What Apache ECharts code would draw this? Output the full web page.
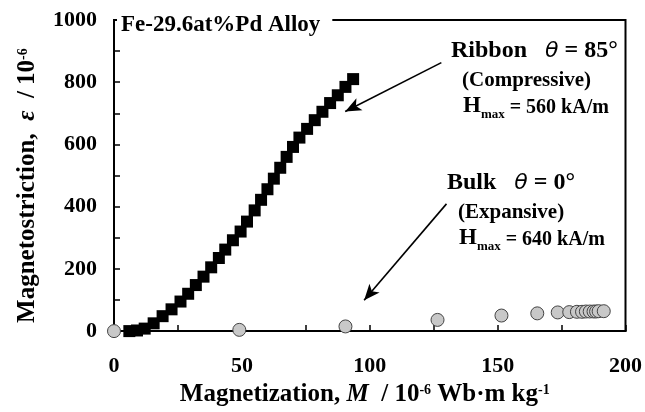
<!DOCTYPE html>
<html>
<head>
<meta charset="utf-8">
<script src="https://cdn.jsdelivr.net/npm/echarts@6/dist/echarts.min.js"></script>
<style>html,body{margin:0;padding:0;background:#fff}#c{width:645px;height:412px}</style>
</head>
<body>
<div id="c"></div>
<script>
// Ribbon (theta = 85 deg), magnetization M (10^-6 Wb m/kg)
var ribbonM = [6, 9, 12, 15.5, 19, 22.5, 26, 29, 32, 35, 38, 41, 43.5, 46.5, 49.5, 52, 55, 57.5, 60, 62.5, 65, 67.5, 70, 72.5, 75.5, 78.5, 81.5, 84.5, 87.5, 90.5, 93.5];
// Ribbon magnetostriction (10^-6)
var ribbonE = [0, 2, 8, 25, 48, 70, 95, 120, 148, 175, 205, 235, 262, 292, 320, 352, 388, 422, 456, 490, 525, 560, 592, 622, 650, 678, 705, 733, 758, 785, 810];
// Bulk (theta = 0 deg)
var bulkM = [0, 49, 90.5, 126.5, 151.5, 165.5, 173.5, 178, 181, 183, 184.5, 186, 187.5, 188.5, 189.5, 191.5];
var bulkE = [0, 4, 15, 36, 50, 57, 60, 61, 62, 62, 63, 63, 63, 63, 64, 64];
// Axis ticks
var xTicks = {min: 0, max: 200, interval: 50};
var yTicks = {min: 0, max: 1000, interval: 200};
// Arrow annotations (data coordinates: start -> tip)
var ribbonArrow = [[128, 863], [90.4, 706]];
var bulkArrow = [[130, 409], [97.8, 99]];

var FONT = 'Liberation Serif';
var chart = echarts.init(document.getElementById('c'));
function st(size, lh, extra) {
  var o = {fontFamily: FONT, fontWeight: 'bold', fontSize: size, color: '#000', verticalAlign: 'top', lineHeight: lh};
  for (var k in extra) o[k] = extra[k];
  return o;
}
var richAx = {
  t: st(25, 28), i: st(25, 28, {fontStyle: 'italic'}), s: st(14, 14, {padding: [1, 0, 0, 0]})
};
var richY = {
  t: st(25, 28), i: st(25, 28, {fontStyle: 'italic'}), s: st(14, 14, {padding: [1, 0, 0, 0]})
};
var richAnn = {
  t: st(24, 26),
  th: {fontFamily: 'DejaVu Sans', fontStyle: 'italic', fontSize: 22, color: '#000', verticalAlign: 'top', lineHeight: 26, padding: [1, 0, 0, 0]},
  m: st(21, 24),
  h: st(20, 24, {padding: [3, 0, 0, 0]}),
  H: st(23, 26),
  b: st(13, 13, {padding: [13, 0, 0, 0]})
};

function zip(a, b) { return a.map(function (v, i) { return [v, b[i]]; }); }

var option = {
  animation: false,
  backgroundColor: '#fff',
  grid: {left: 114, right: 18, top: 20, bottom: 79, show: true, borderColor: '#000', borderWidth: 2, backgroundColor: 'transparent'},
  title: {
    text: 'Fe-29.6at%Pd Alloy', left: 117, top: 13,
    backgroundColor: '#fff', padding: [0, 12, 2, 4],
    textStyle: {fontFamily: FONT, fontWeight: 'bold', fontSize: 23, color: '#000', lineHeight: 24}
  },
  xAxis: {
    type: 'value', min: xTicks.min, max: xTicks.max, interval: xTicks.interval,
    axisLine: {show: true, onZero: false, lineStyle: {color: '#000', width: 2}},
    axisTick: {show: true, inside: true, length: 6, lineStyle: {color: '#000', width: 1.5}},
    minorTick: {show: true, splitNumber: 2, length: 6, lineStyle: {color: '#000', width: 1.5}},
    splitLine: {show: false},
    axisLabel: {margin: 24, fontFamily: FONT, fontWeight: 'bold', fontSize: 22, color: '#000', formatter: function (v) { return String(v); }},
    name: '{t|Magnetization, }{i|M}{t|  / 10}{s|-6}{t| Wb·m kg}{s|-1}',
    nameLocation: 'middle', nameGap: 45,
    nameTextStyle: {rich: richAx, padding: [0, 10, 0, 0]}
  },
  yAxis: {
    type: 'value', min: yTicks.min, max: yTicks.max, interval: yTicks.interval,
    axisLine: {show: true, onZero: false, lineStyle: {color: '#000', width: 2}},
    axisTick: {show: true, inside: true, length: 6, lineStyle: {color: '#000', width: 1.5}},
    minorTick: {show: true, splitNumber: 2, length: 6, lineStyle: {color: '#000', width: 1.5}},
    splitLine: {show: false},
    axisLabel: {margin: 17, fontFamily: FONT, fontWeight: 'bold', fontSize: 22, color: '#000', formatter: function (v) { return String(v); }},
    name: '{t|Magnetostriction,  }{i|ε}{t|  / 10}{s|-6}',
    nameLocation: 'middle', nameGap: 71, nameRotate: 90,
    nameTextStyle: {rich: richY, padding: [0, 20, 0, 0]}
  },
  series: [
    {
      type: 'scatter', name: 'Ribbon', data: zip(ribbonM, ribbonE),
      symbol: 'rect', symbolSize: 12, clip: false,
      itemStyle: {color: '#000', opacity: 1},
      emphasis: {disabled: true},
      markLine: {
        silent: true, symbol: ['none', 'arrow'], symbolSize: [10, 16],
        label: {show: false},
        lineStyle: {color: '#000', width: 1.6, type: 'solid', opacity: 1},
        data: [[{coord: ribbonArrow[0]}, {coord: ribbonArrow[1]}], [{coord: bulkArrow[0]}, {coord: bulkArrow[1]}]]
      },
      z: 3
    },
    {
      type: 'scatter', name: 'Bulk', data: zip(bulkM, bulkE),
      symbol: 'circle', symbolSize: 13, clip: false,
      itemStyle: {color: '#c8c8c8', borderColor: '#444', borderWidth: 1, opacity: 1},
      emphasis: {disabled: true},
      z: 4
    }
  ],
  graphic: [
    {type: 'text', left: 451, top: 39, style: {text: '{t|Ribbon   }{th|θ}{t| = 85°}', rich: richAnn}},
    {type: 'text', left: 462, top: 70, style: {text: '{m|(Compressive)}', rich: richAnn}},
    {type: 'text', left: 463, top: 95, style: {text: '{H|H}{b|max}{h| = 560 kA/m}', rich: richAnn}},
    {type: 'text', left: 447, top: 171, style: {text: '{t|Bulk   }{th|θ}{t| = 0°}', rich: richAnn}},
    {type: 'text', left: 458, top: 202, style: {text: '{m|(Expansive)}', rich: richAnn}},
    {type: 'text', left: 459, top: 227, style: {text: '{H|H}{b|max}{h| = 640 kA/m}', rich: richAnn}}
  ]
};
chart.setOption(option);
</script>
</body>
</html>
